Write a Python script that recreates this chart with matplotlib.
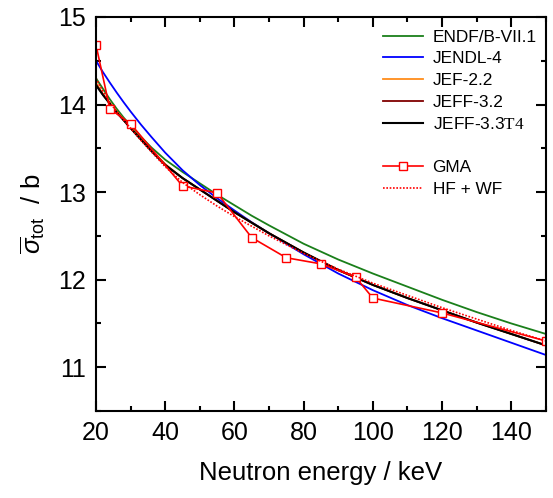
import matplotlib
matplotlib.use("Agg")
import matplotlib.pyplot as plt
from matplotlib.ticker import MultipleLocator

plt.rcParams["font.family"] = ["Liberation Sans", "DejaVu Sans"]
plt.rcParams["mathtext.fontset"] = "custom"
plt.rcParams["mathtext.rm"] = "Liberation Serif"
plt.rcParams["mathtext.sf"] = "Liberation Sans"
plt.rcParams["mathtext.it"] = "Liberation Sans:italic"

# evaluated library curves
e_grid = [20, 22, 24, 26, 28, 30, 33, 36, 40, 45, 50, 55, 60, 65, 70, 80, 90,
          100, 110, 120, 130, 140, 150]
endf = [14.30, 14.18, 14.06, 13.95, 13.85, 13.76, 13.63, 13.51, 13.37, 13.23,
        13.10, 12.97, 12.85, 12.73, 12.62, 12.41, 12.23, 12.07, 11.92, 11.77,
        11.63, 11.50, 11.38]
jendl = [14.50, 14.37, 14.25, 14.135, 14.025, 13.92, 13.77, 13.63, 13.45, 13.25,
         13.08, 12.93, 12.79, 12.655, 12.53, 12.29, 12.07, 11.88, 11.71, 11.56,
         11.42, 11.28, 11.14]
jef22 = [14.25, 14.12, 14.02, 13.92, 13.83, 13.74, 13.61, 13.48, 13.32, 13.16,
         13.03, 12.90, 12.77, 12.65, 12.53, 12.31, 12.11, 11.94, 11.79, 11.65,
         11.51, 11.38, 11.25]
jeff32 = [14.23, 14.11, 14.01, 13.91, 13.82, 13.73, 13.60, 13.47, 13.31, 13.16,
          13.03, 12.90, 12.77, 12.65, 12.53, 12.31, 12.11, 11.94, 11.79, 11.65,
          11.51, 11.38, 11.25]
jeff33 = [14.22, 14.11, 14.01, 13.91, 13.82, 13.73, 13.60, 13.47, 13.31, 13.16,
          13.03, 12.90, 12.77, 12.65, 12.53, 12.31, 12.11, 11.94, 11.79, 11.65,
          11.51, 11.38, 11.25]
hfwf = [14.30, 14.15, 14.02, 13.92, 13.82, 13.73, 13.59, 13.46, 13.29, 13.11,
        12.97, 12.84, 12.72, 12.61, 12.50, 12.30, 12.12, 11.96, 11.82, 11.68,
        11.55, 11.42, 11.30]

# GMA evaluation points
gma_e = [20, 24, 30, 45, 55, 65, 75, 85, 95, 100, 120, 150]
gma_s = [14.68, 13.95, 13.78, 13.07, 12.99, 12.48, 12.25, 12.18, 12.03, 11.79, 11.62, 11.30]

fig = plt.figure(figsize=(5.53, 4.98), dpi=100)
ax = fig.add_axes([0.1736, 0.1747, 0.8134, 0.7913])

ax.plot(e_grid, endf, color="#1a7f1a", lw=1.3, label="ENDF/B-VII.1")
ax.plot(e_grid, jendl, color="#0000ff", lw=1.3, label="JENDL-4")
ax.plot(e_grid, jef22, color="#ff8c1a", lw=1.3, label="JEF-2.2")
ax.plot(e_grid, jeff32, color="#800000", lw=1.3, label="JEFF-3.2")
ax.plot(e_grid, jeff33, color="black", lw=1.5, label=r"JEFF-3.3$\mathrm{T4}$")
ax.plot([], [], color="none", label=" ")
ax.plot(gma_e, gma_s, color="#ff0000", lw=1.2, marker="s", ms=5.5,
        mfc="white", mec="#ff0000", mew=1.0, label="GMA")
ax.plot(e_grid, hfwf, color="#ff0000", lw=1.2, ls=(0, (1, 1)), label="HF + WF")

ax.set_xlim(20, 150)
ax.set_ylim(10.5, 15)
ax.xaxis.set_major_locator(MultipleLocator(20))
ax.xaxis.set_minor_locator(MultipleLocator(10))
ax.yaxis.set_major_locator(MultipleLocator(1))
ax.yaxis.set_minor_locator(MultipleLocator(0.5))
ax.tick_params(which="both", direction="in", top=True, right=True, width=1.5,
               labelsize=18)
ax.tick_params(which="major", length=7, pad=7)
ax.tick_params(which="minor", length=3.5)
for s in ax.spines.values():
    s.set_linewidth(1.5)

ax.set_xlabel("Neutron energy / keV", fontsize=18.5, labelpad=12)
ax.set_ylabel(r"$\overline{\sigma}_{\mathsf{tot}}$  / b", fontsize=18.5, labelpad=8)

ax.legend(loc="upper right", frameon=False, fontsize=12.4, handlelength=2.3,
          handletextpad=0.55, labelspacing=0.38, borderaxespad=0.0,
          bbox_to_anchor=(0.995, 0.985))

fig.savefig("out.png", dpi=100)
